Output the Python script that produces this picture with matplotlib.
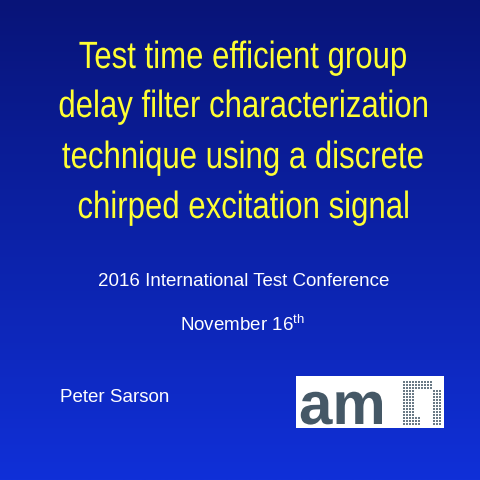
import numpy as np
import matplotlib
matplotlib.use('Agg')
import matplotlib.pyplot as plt
from matplotlib.patches import Rectangle, PathPatch
from matplotlib.textpath import TextPath
from matplotlib.font_manager import FontProperties
from matplotlib.transforms import Affine2D

title_lines = ['Test time efficient group',
               'delay filter characterization',
               'technique using a discrete',
               'chirped excitation signal']
title_y = [68, 117, 168, 218]   # baselines
conference = '2016 International Test Conference'
date_text = 'November 16$^{\\mathregular{th}}$'
author = 'Peter Sarson'

fig = plt.figure(figsize=(4.8, 4.8), dpi=100)
ax = fig.add_axes([0, 0, 1, 1])
ax.set_xlim(0, 480)
ax.set_ylim(480, 0)
ax.axis('off')

# vertical blue gradient background
grad = np.linspace(0, 1, 256).reshape(-1, 1)
ax.imshow(grad, extent=[0, 480, 480, 0], aspect='auto',
          cmap=matplotlib.colors.LinearSegmentedColormap.from_list(
              'bg', ['#081478', '#1030d8']), zorder=0)

# narrow title: scaled text paths
fp = FontProperties(family='Liberation Sans')
for line, y in zip(title_lines, title_y):
    tp = TextPath((0, 0), line, size=38, prop=fp)
    w = tp.get_extents().width * 0.82
    tr = Affine2D().scale(0.82, -1).translate(242 - w / 2, y)
    ax.add_patch(PathPatch(tr.transform_path(tp), facecolor='#ffff33',
                           edgecolor='none', zorder=3))

ax.text(244, 281, conference, color='white', fontsize=13.5, ha='center', va='center',
        family='Liberation Sans')
ax.text(242, 325, date_text, color='white', fontsize=13.5, ha='center', va='center',
        family='Liberation Sans')
ax.text(60, 398, author, color='white', fontsize=13.5, ha='left', va='center',
        family='Liberation Sans')

# logo
ax.add_patch(Rectangle((296, 376), 148, 52, facecolor='white', edgecolor='none', zorder=2))
amp = TextPath((0, 0), 'am', size=60, prop=FontProperties(family='Liberation Sans', weight='bold'))
ax.add_patch(PathPatch(Affine2D().scale(1.0, -1).translate(299, 424).transform_path(amp),
                       facecolor='#455866', edgecolor='none', zorder=3))
xs = np.arange(403, 442, 3)
ys = np.arange(381, 425, 3)
for x in xs:
    for y in ys:
        left = x < 413
        right = x > 430
        if (left and y >= 390) or (right and y >= 390) or (y < 390 and x < 432) or (y > 415 and x < 420):
            ax.add_patch(Rectangle((x, y), 2, 2, facecolor='#6a7a86',
                                   edgecolor='none', zorder=3))

fig.savefig('out.png', dpi=100)
